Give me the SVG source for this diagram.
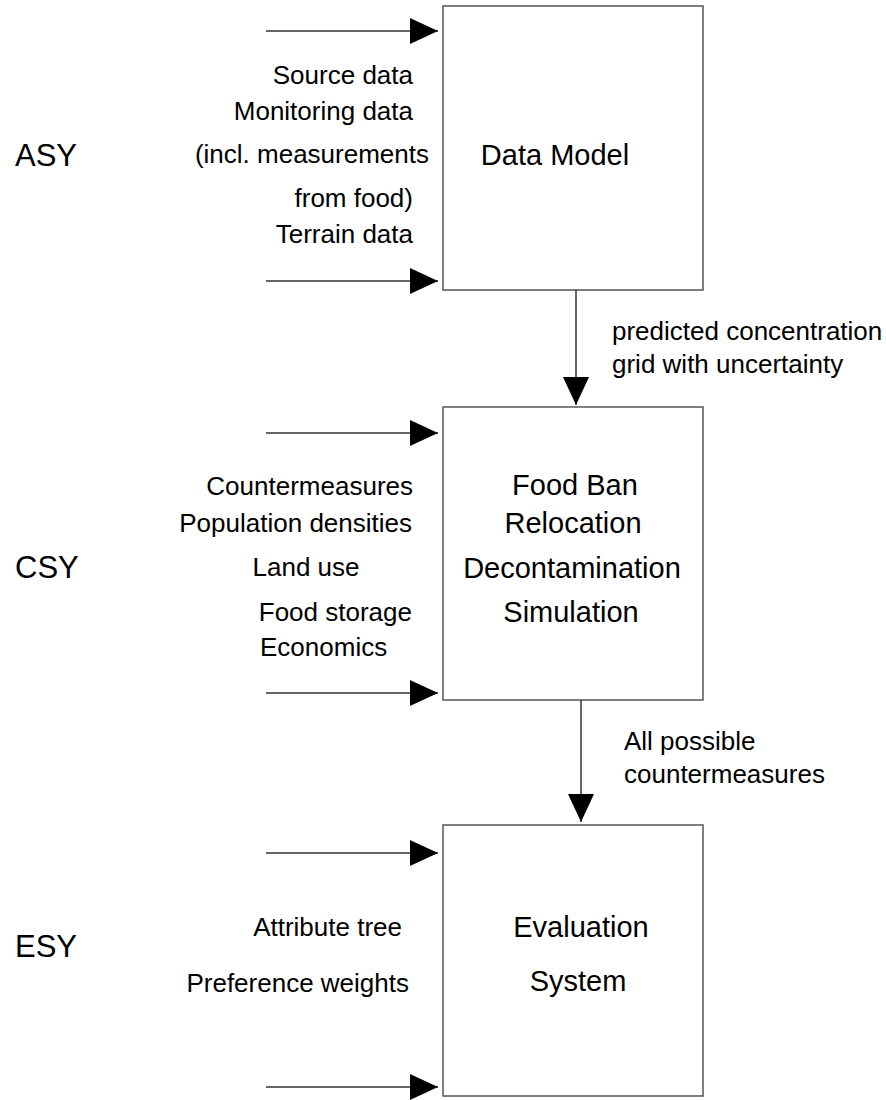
<svg xmlns="http://www.w3.org/2000/svg" width="886" height="1100" viewBox="0 0 886 1100">
  <style>
    text { font-family: "Liberation Sans", Arial, sans-serif; fill: #000; }
    .lbl { font-size: 26px; }
    .box-lbl { font-size: 29px; text-anchor: middle; }
    .sys { font-size: 31px; }
    .end { text-anchor: end; }
    .mid { text-anchor: middle; }
    .box { fill: #fff; stroke: #555; stroke-width: 1.5; }
    .conn { stroke: #333; stroke-width: 1.5; fill: none; marker-end: url(#head); }
  </style>
  <defs>
    <marker id="head" markerUnits="userSpaceOnUse" markerWidth="28" markerHeight="26" refX="28" refY="13" orient="auto">
      <path d="M0,0 L28,13 L0,26 Z" fill="#000"/>
    </marker>
  </defs>

  <!-- subsystem names -->
  <text class="sys" x="15" y="166">ASY</text>
  <text class="sys" x="15" y="578">CSY</text>
  <text class="sys" x="15" y="957">ESY</text>

  <!-- model blocks -->
  <g id="data-model">
    <rect class="box" x="443" y="6" width="260" height="284"/>
    <text class="box-lbl" x="555" y="165">Data Model</text>
  </g>
  <g id="countermeasure-sim">
    <rect class="box" x="443" y="407" width="260" height="293"/>
    <text class="box-lbl" x="575" y="495">Food Ban</text>
    <text class="box-lbl" x="573" y="533">Relocation</text>
    <text class="box-lbl" x="572" y="578">Decontamination</text>
    <text class="box-lbl" x="571" y="622">Simulation</text>
  </g>
  <g id="evaluation-system">
    <rect class="box" x="443" y="825" width="260" height="271"/>
    <text class="box-lbl" x="581" y="937">Evaluation</text>
    <text class="box-lbl" x="578" y="991">System</text>
  </g>

  <!-- inputs to each block -->
  <g id="asy-inputs">
    <text class="lbl end" x="413" y="84">Source data</text>
    <text class="lbl end" x="413" y="120">Monitoring data</text>
    <text class="lbl end" x="429" y="163">(incl. measurements</text>
    <text class="lbl end" x="413" y="207">from food)</text>
    <text class="lbl end" x="413" y="243">Terrain data</text>
  </g>
  <g id="csy-inputs">
    <text class="lbl end" x="413" y="495">Countermeasures</text>
    <text class="lbl end" x="412" y="532">Population densities</text>
    <text class="lbl mid" x="306" y="576">Land use</text>
    <text class="lbl end" x="412" y="621">Food storage</text>
    <text class="lbl" x="260" y="656">Economics</text>
  </g>
  <g id="esy-inputs">
    <text class="lbl end" x="402" y="936">Attribute tree</text>
    <text class="lbl end" x="409" y="992">Preference weights</text>
  </g>

  <!-- flow labels -->
  <g id="flow-labels">
    <text class="lbl" x="612" y="340">predicted concentration</text>
    <text class="lbl" x="612" y="373">grid with uncertainty</text>
    <text class="lbl" x="624" y="750">All possible</text>
    <text class="lbl" x="624" y="783">countermeasures</text>
  </g>

  <!-- connectors -->
  <g id="connectors">
    <line class="conn" x1="266" y1="31" x2="438" y2="31"/>
    <line class="conn" x1="266" y1="281" x2="438" y2="281"/>
    <line class="conn" x1="266" y1="433" x2="438" y2="433"/>
    <line class="conn" x1="266" y1="693" x2="438" y2="693"/>
    <line class="conn" x1="266" y1="853" x2="438" y2="853"/>
    <line class="conn" x1="266" y1="1087" x2="438" y2="1087"/>
    <line class="conn" x1="576" y1="290" x2="576" y2="405"/>
    <line class="conn" x1="581" y1="700" x2="581" y2="822"/>
  </g>
</svg>
